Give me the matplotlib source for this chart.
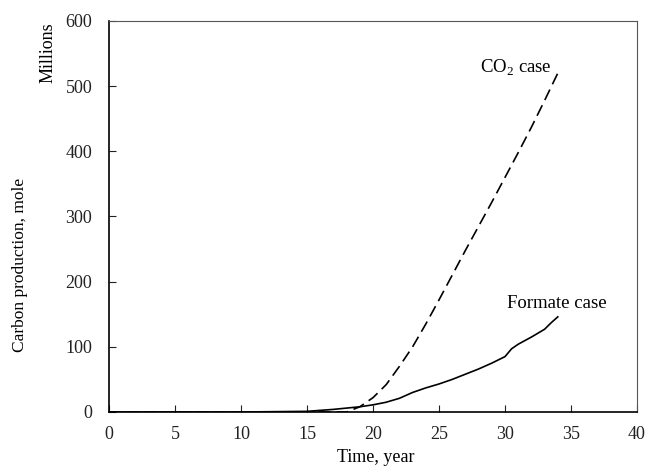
import matplotlib
matplotlib.use("Agg")
import matplotlib.pyplot as plt

co2_x = [0, 17.5, 18, 19, 20, 21, 22, 23, 24, 25, 26, 27, 28, 29, 30, 31, 32, 33, 34]
co2_y = [0, 0, 0, 8, 22, 42, 70, 100, 135, 172, 210, 248, 285, 322, 360, 398, 437, 478, 520]

fmt_x = [0, 10, 15, 16, 17, 18, 19, 20, 21, 22, 23, 24, 25, 26, 27, 28, 29, 30, 30.5, 31, 32, 33, 33.5, 34]
fmt_y = [0, 0, 1, 2.5, 4, 6, 8, 11, 15, 21, 30, 37, 43, 50, 58, 66, 75, 85, 97, 104, 115, 127, 137, 146]

x_ticks = [0, 5, 10, 15, 20, 25, 30, 35, 40]
y_ticks = [0, 100, 200, 300, 400, 500, 600]

plt.rcParams['font.family'] = ['Liberation Serif', 'DejaVu Serif']
plt.rcParams['mathtext.fontset'] = 'custom'
plt.rcParams['mathtext.rm'] = 'Liberation Serif'

W, H = 648, 470
fig = plt.figure(figsize=(W/100, H/100), dpi=100)
ax = fig.add_axes([109/W, 1-412/H, (637-109)/W, (412-21)/H])

ax.plot(co2_x, co2_y, color='black', lw=1.2, ls=(0, (7, 3.5)))
ax.plot(fmt_x, fmt_y, color='black', lw=1.2)

ax.set_xlim(0, 40)
ax.set_ylim(0, 600)
ax.set_xticks(x_ticks)
ax.set_yticks(y_ticks)
ax.tick_params(direction='in', length=5, width=0.8, labelsize=13, colors='#222222')
ax.tick_params(axis='x', pad=10)
ax.tick_params(axis='y', pad=12)
for s in ax.spines.values():
    s.set_linewidth(0.8)
for s in ['bottom', 'left']:
    ax.spines[s].set_linewidth(1.2)
for s in ['top', 'right']:
    ax.spines[s].set_color('#555555')

fig.text(376/W, 1-457/H, 'Time, year', fontsize=13, ha='center', va='center')
fig.text(20/W, 1-265/H, 'Carbon production, mole', rotation=90, fontsize=12.5,
         ha='center', va='center')
fig.text(48/W, 1-22/H, 'Millions', rotation=90, fontsize=13, ha='center', va='top')

ax.text(33.56, 520, 'CO$_{\\mathrm{2}}$ case', fontsize=13.5, ha='right', va='baseline')
ax.text(37.73, 160, 'Formate case', fontsize=13.5, ha='right', va='baseline')

fig.savefig('out.png', dpi=100)
